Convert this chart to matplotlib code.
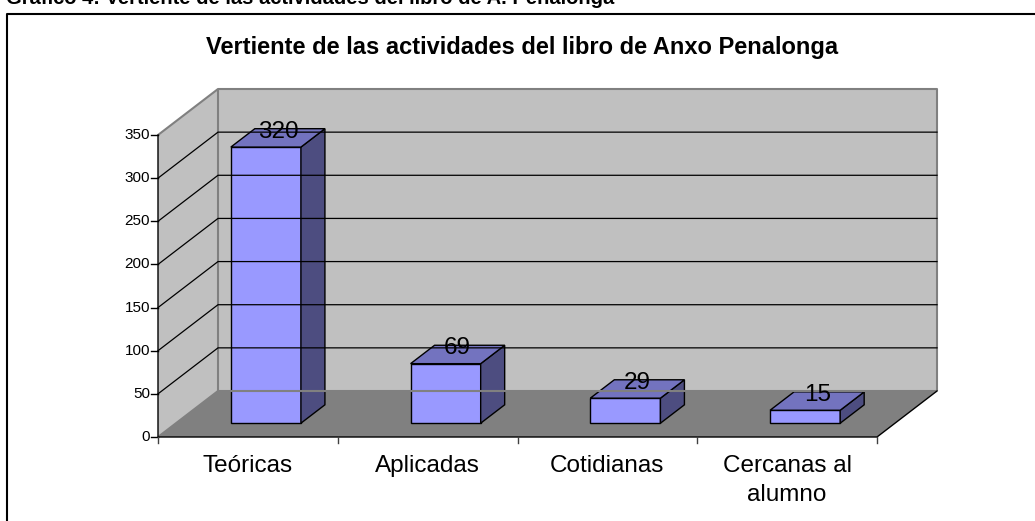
"""
Grafico 3D a barre (stile Excel): vertiente de las actividades.
"""

import matplotlib
matplotlib.use('Agg')
import matplotlib.pyplot as plt
from matplotlib.patches import Polygon

plt.rcParams['font.family'] = ['Liberation Sans', 'DejaVu Sans']

# Dati
categorias = ['Teóricas', 'Aplicadas', 'Cotidianas', 'Cercanas al\nalumno']
actividades = [320, 69, 29, 15]
ticks_y = [0, 50, 100, 150, 200, 250, 300, 350]

titulo = 'Vertiente de las actividades del libro de Anxo Penalonga'
pie = 'Gráfico 4: Vertiente de las actividades del libro de A. Penalonga'

# Geometria (pixel)
W, H = 1035, 521
X0, Y0 = 158, 437            # origine del grafico (pixel, y dall'alto)
PX_CAT = 179.75              # pixel per categoria
PX_VAL = 302 / 350           # pixel per unita
DX = 60 / PX_CAT             # profondita in unita di dati
DY = 46 / PX_VAL
YMAX = ticks_y[-1]
N = len(categorias)
BW = 0.39                    # larghezza barra
D0, D1 = 0.30, 0.70          # profondita barra

C_PARED = '#C0C0C0'
C_SUELO = '#808080'
C_BORDE = '#808080'
C_FRENTE = '#9999FF'
C_TECHO = '#7373BF'
C_LADO = '#4D4D80'


def p(x, y, d):
    """Proiezione obliqua: x categoria, y valore, d profondita 0..1."""
    return (x + d * DX, y + d * DY)


def px_x(n):
    return n / PX_CAT


def px_y(n):
    return n / PX_VAL


fig = plt.figure(figsize=(W / 100, H / 100), dpi=100)
ax = fig.add_axes([0, 0, 1, 1])
ax.set_xlim(-X0 / PX_CAT, (W - X0) / PX_CAT)
ax.set_ylim(-(H - Y0) / PX_VAL, Y0 / PX_VAL)
ax.axis('off')

# Suelo y paredes
ax.add_patch(Polygon([p(0, 0, 0), p(N, 0, 0), p(N, 0, 1), p(0, 0, 1)],
                     closed=True, facecolor=C_SUELO, edgecolor='none'))
ax.add_patch(Polygon([p(0, 0, 0), p(0, YMAX, 0), p(0, YMAX, 1), p(0, 0, 1)],
                     closed=True, facecolor=C_PARED, edgecolor='none'))
ax.add_patch(Polygon([p(0, 0, 1), p(N, 0, 1), p(N, YMAX, 1), p(0, YMAX, 1)],
                     closed=True, facecolor=C_PARED, edgecolor='none'))

# Bordes de las paredes (gris)
for seg in [
    [p(0, 0, 0), p(0, 0, 1)],
    [p(0, 0, 1), p(0, YMAX, 1)],
    [p(0, YMAX, 0), p(0, YMAX, 1), p(N, YMAX, 1), p(N, 0, 1)],
    [p(0, 0, 1), p(N, 0, 1)],
]:
    xs, ys = zip(*seg)
    ax.plot(xs, ys, color=C_BORDE, lw=1.5, solid_capstyle='butt')

# Lineas de division
for t in ticks_y[1:-1]:
    xs, ys = zip(*[p(0, t, 0), p(0, t, 1), p(N, t, 1)])
    ax.plot(xs, ys, color='black', lw=0.9)

# Ejes
xs, ys = zip(*[p(0, YMAX, 0), p(0, 0, 0), p(N, 0, 0), p(N, 0, 1)])
ax.plot(xs, ys, color='black', lw=1.0)
for t in ticks_y:
    ax.plot([-px_x(7), 0], [t, t], color='black', lw=1.0)
    ax.text(-px_x(8), t, str(t), ha='right', va='center', fontsize=11)
for i in range(N + 1):
    ax.plot([i, i], [0, -px_y(6)], color='#404040', lw=1.0)

# Barras
for i, v in enumerate(actividades):
    xl = i + 0.5 - BW / 2
    xr = i + 0.5 + BW / 2
    frente = [p(xl, 0, D0), p(xr, 0, D0), p(xr, v, D0), p(xl, v, D0)]
    techo = [p(xl, v, D0), p(xr, v, D0), p(xr, v, D1), p(xl, v, D1)]
    lado = [p(xr, 0, D0), p(xr, 0, D1), p(xr, v, D1), p(xr, v, D0)]
    for poly, col in [(frente, C_FRENTE), (lado, C_LADO), (techo, C_TECHO)]:
        ax.add_patch(Polygon(poly, closed=True, facecolor=col,
                             edgecolor='black', lw=1.0, joinstyle='miter'))
    lx, ly = p(i + 0.5, v, 0.5)
    ax.text(lx, ly, str(v), ha='center', va='baseline', fontsize=17.5)

# Etiquetas de categorias (una linea cada vez, base a 35 px y 29 px de paso)
for i, cat in enumerate(categorias):
    for k, linea in enumerate(cat.split('\n')):
        ax.text(i + 0.5, -px_y(35 + 29 * k), linea, ha='center',
                va='baseline', fontsize=17.5)

# Titulo y marco
fig.text(522 / W, 1 - 47 / H, titulo, ha='center', va='center',
         fontsize=17, fontweight='bold')
# pie de la pagina, cortado arriba como en el original
fig.text(6 / W, 1 - 3.5 / H, pie, ha='left', va='baseline',
         fontsize=14.5, fontweight='bold')
ax.plot([7 / W, 7 / W, 1.01], [-0.01, 1 - 13.5 / H, 1 - 13.5 / H],
        color='black', lw=1.5, transform=ax.transAxes, clip_on=False)

fig.savefig('out.png', dpi=100, facecolor='white')
